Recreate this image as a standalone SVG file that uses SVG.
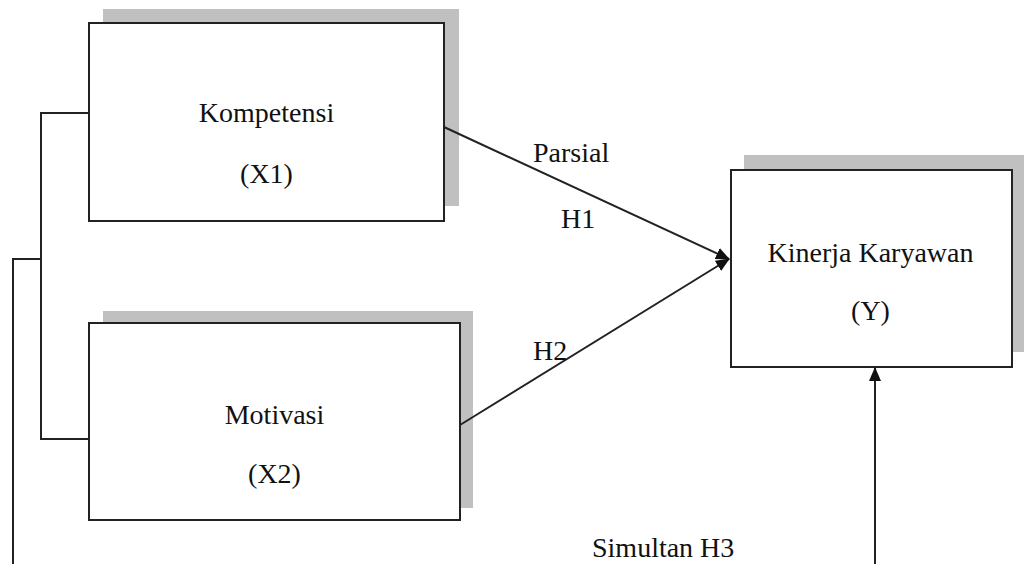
<svg xmlns="http://www.w3.org/2000/svg" width="1024" height="564" viewBox="0 0 1024 564">
<style>
.shadow{fill:#c0c0c0;stroke:none}
.box{fill:#fff;stroke:#222;stroke-width:2}
.lbl{font-family:"Liberation Serif","Times New Roman",serif;font-size:28px;fill:#111}
.mid{text-anchor:middle}
.conn{fill:none;stroke:#222;stroke-width:2}
</style>
<defs>
<marker id="arr" markerUnits="userSpaceOnUse" markerWidth="14" markerHeight="14" viewBox="0 0 14 14" refX="13" refY="7" orient="auto">
<path d="M0,1 L14,7 L0,13 Z" fill="#111"/>
</marker>
</defs>
<rect width="1024" height="564" fill="#fff"/>
<g id="node-x1">
<rect class="shadow" x="103" y="9" width="356" height="197"/>
<rect class="box" x="89" y="23" width="355" height="198"/>
<text class="lbl mid" x="266.5" y="122">Kompetensi</text>
<text class="lbl mid" x="266.5" y="183">(X1)</text>
</g>
<g id="node-x2">
<rect class="shadow" x="103" y="311" width="370" height="197"/>
<rect class="box" x="89" y="323" width="371" height="197"/>
<text class="lbl mid" x="274.5" y="424">Motivasi</text>
<text class="lbl mid" x="274.5" y="483">(X2)</text>
</g>
<g id="node-y">
<rect class="shadow" x="744" y="155" width="282" height="197"/>
<rect class="box" x="731" y="170" width="281" height="197"/>
<text class="lbl mid" x="870.5" y="262">Kinerja Karyawan</text>
<text class="lbl mid" x="870.5" y="320">(Y)</text>
</g>
<g id="connectors">
<polyline class="conn" points="89,113 41,113 41,439 89,439"/>
<polyline class="conn" points="41,259 13,259 13,564"/>
<line class="conn" x1="444" y1="127" x2="729" y2="259" marker-end="url(#arr)"/>
<line class="conn" x1="460" y1="425" x2="729" y2="259" marker-end="url(#arr)"/>
<line class="conn" x1="875" y1="564" x2="875" y2="368" marker-end="url(#arr)"/>
<text class="lbl" x="533" y="162">Parsial</text>
<text class="lbl" x="561" y="228">H1</text>
<text class="lbl" x="533" y="360">H2</text>
<text class="lbl" x="592" y="557">Simultan H3</text>
</g>
</svg>
